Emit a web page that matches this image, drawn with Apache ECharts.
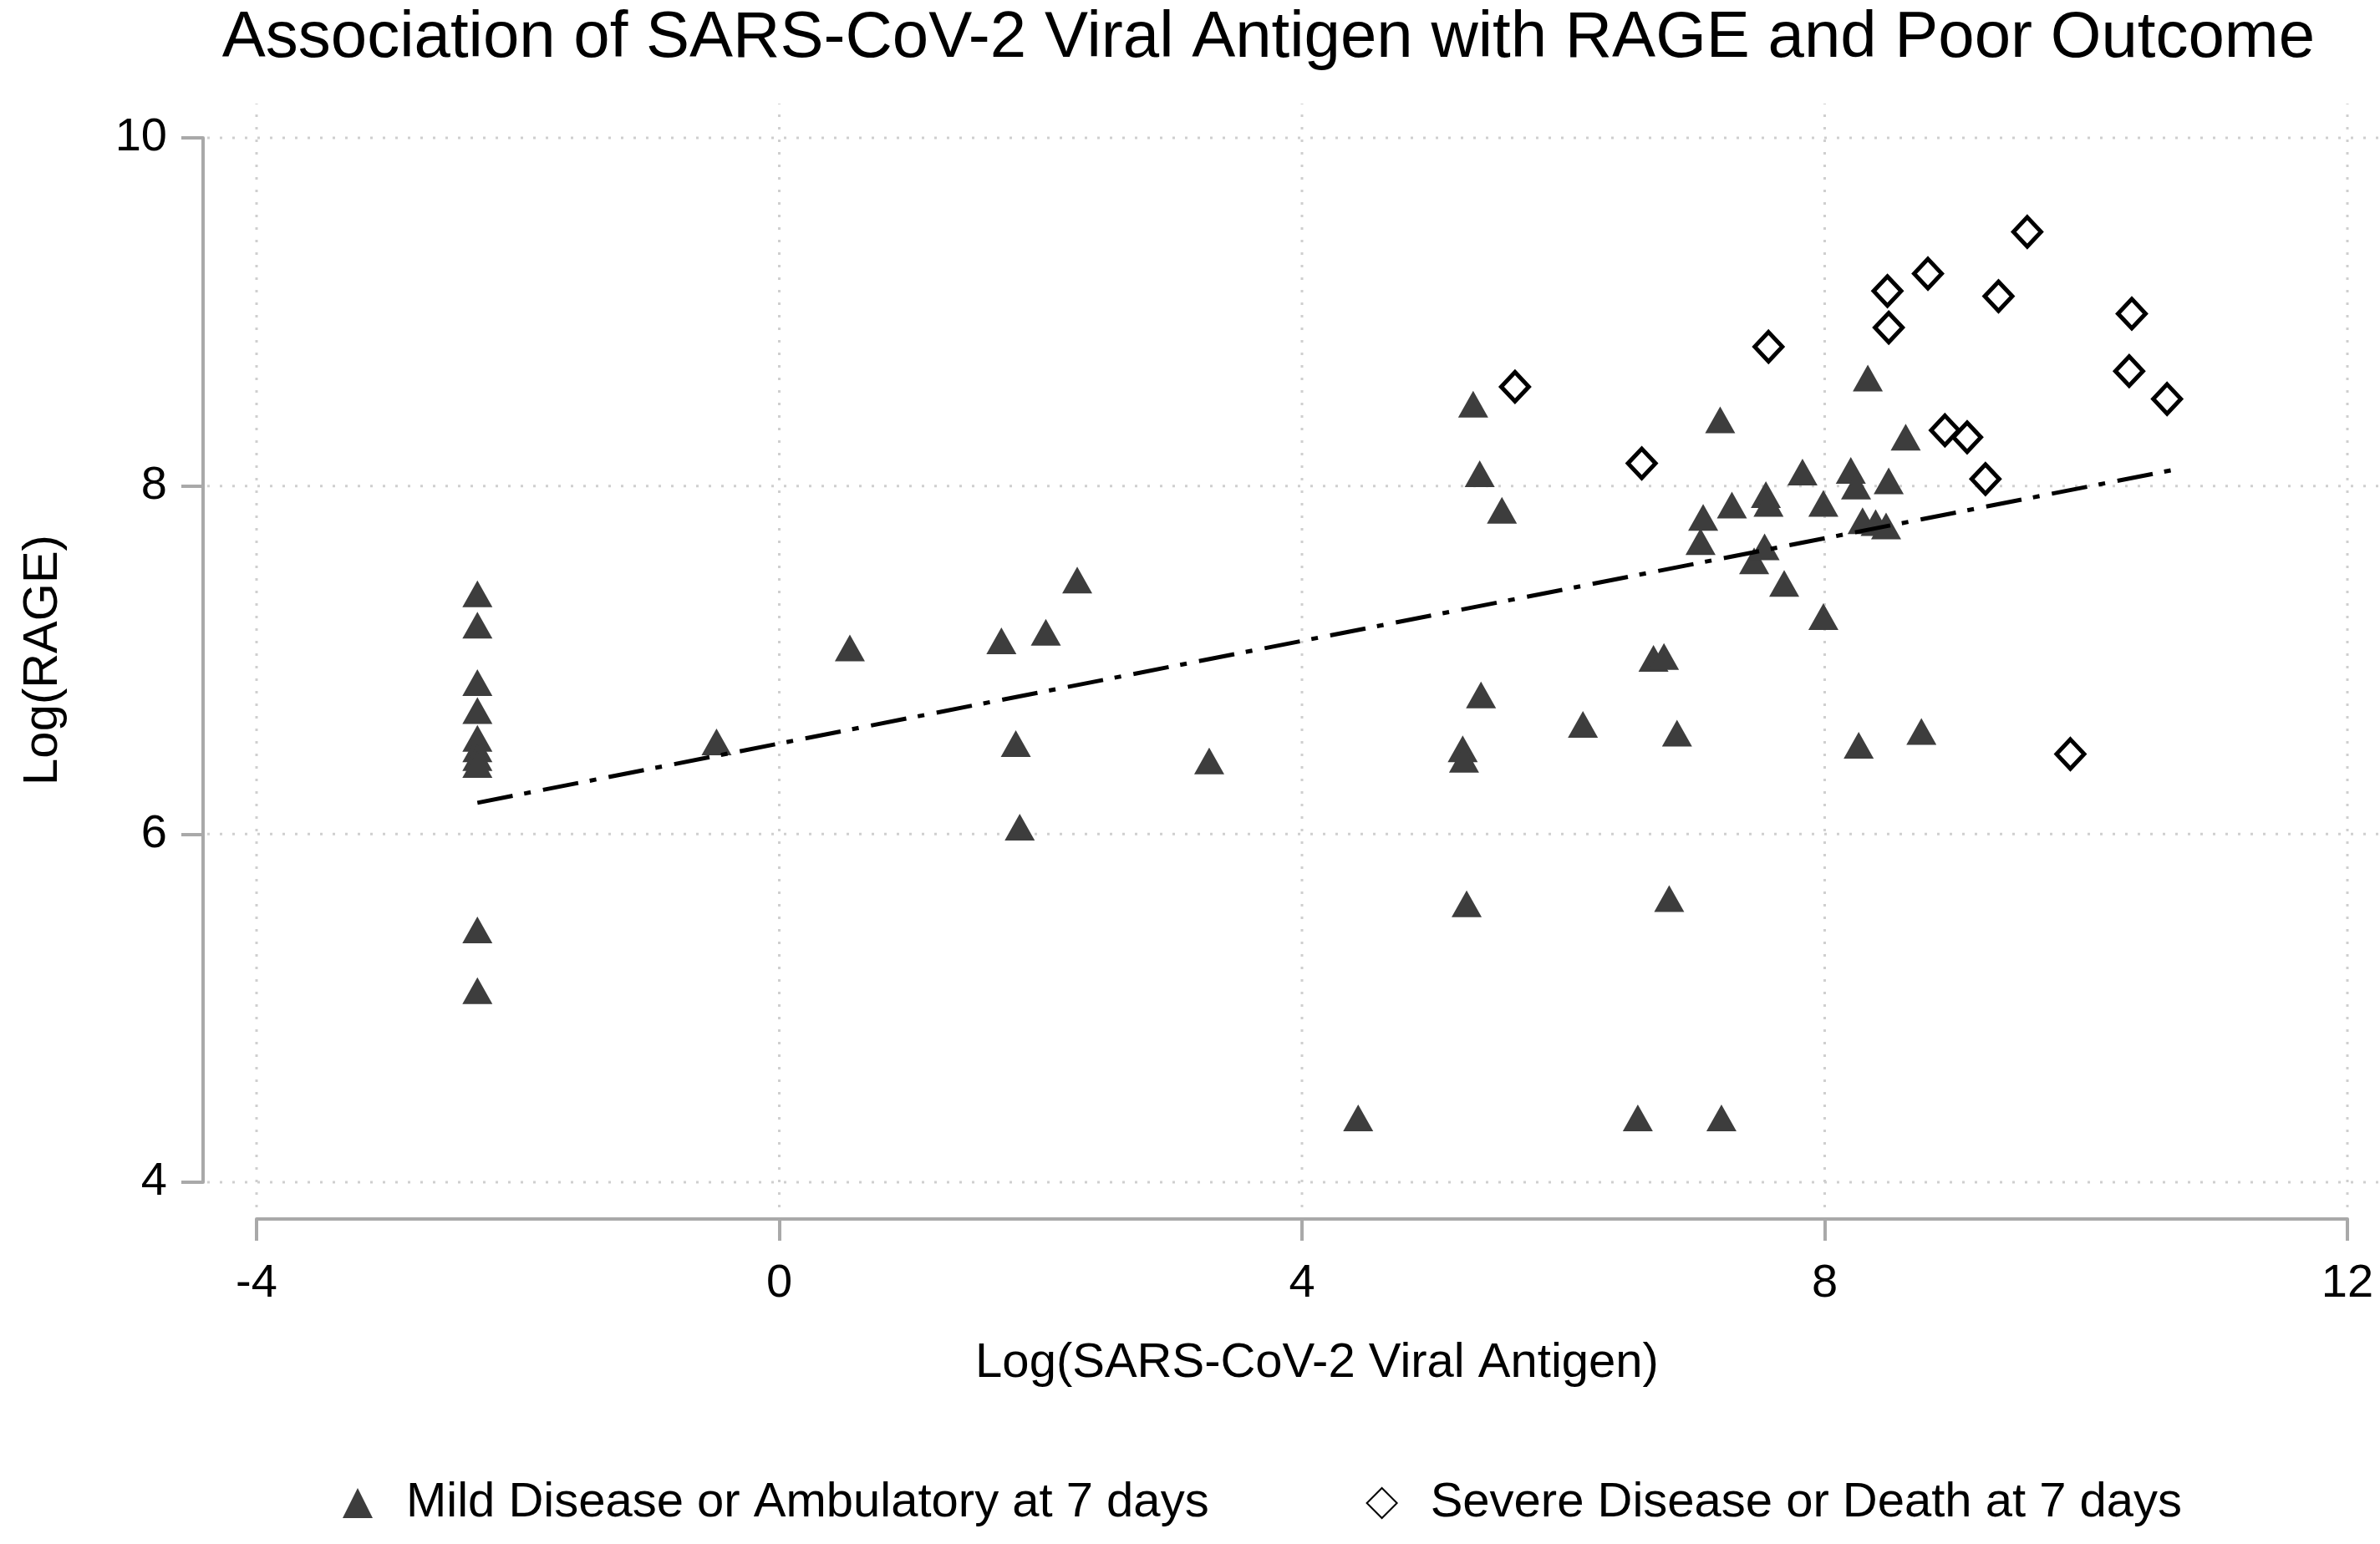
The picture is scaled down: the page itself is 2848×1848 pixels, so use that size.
<!DOCTYPE html>
<html>
<head>
<meta charset="utf-8">
<script src="https://cdn.jsdelivr.net/npm/echarts@6/dist/echarts.min.js"></script>
<style>
html,body{margin:0;padding:0;background:#ffffff;}
#chart{width:2848px;height:1848px;}
</style>
</head>
<body>
<div id="chart"></div>
<script>
// ---------------- data ----------------
const titleText = 'Association of SARS-CoV-2 Viral Antigen with RAGE and Poor Outcome';
const xName = 'Log(SARS-CoV-2 Viral Antigen)';
const yName = 'Log(RAGE)';
const mildName = 'Mild Disease or Ambulatory at 7 days';
const severeName = 'Severe Disease or Death at 7 days';

const xTicks = [-4, 0, 4, 8, 12];
const yTicks = [4, 6, 8, 10];

// Mild disease or ambulatory at 7 days: [log antigen, log RAGE]
const mild = [
  [-2.31, 7.38], [-2.31, 7.20], [-2.31, 6.87], [-2.31, 6.71], [-2.31, 6.55],
  [-2.31, 6.49], [-2.31, 6.44], [-2.31, 6.40], [-2.31, 5.45], [-2.31, 5.10],
  [-0.48, 6.53], [0.54, 7.07], [1.70, 7.11], [2.04, 7.16], [2.28, 7.46],
  [1.81, 6.52], [1.84, 6.04], [3.29, 6.42], [4.43, 4.37],
  [5.23, 6.49], [5.24, 6.43], [5.26, 5.60], [5.31, 8.47], [5.36, 8.07],
  [5.37, 6.80], [5.53, 7.86], [6.15, 6.63], [6.57, 4.37], [6.69, 7.01],
  [6.77, 7.02], [6.81, 5.63], [6.87, 6.58], [7.05, 7.68], [7.07, 7.82],
  [7.20, 8.38], [7.21, 4.37], [7.29, 7.89], [7.46, 7.57], [7.54, 7.65],
  [7.55, 7.95], [7.57, 7.90], [7.69, 7.44], [7.83, 8.08], [7.99, 7.90],
  [7.99, 7.25], [8.20, 8.09], [8.24, 8.00], [8.26, 6.51], [8.29, 7.80],
  [8.33, 8.62], [8.39, 7.79], [8.47, 7.77], [8.49, 8.03], [8.62, 8.28],
  [8.74, 6.59]
];

// Severe disease or death at 7 days
const severe = [
  [5.63, 8.57], [6.60, 8.13], [7.57, 8.80], [8.48, 9.12], [8.49, 8.91],
  [8.79, 9.22], [8.92, 8.32], [9.09, 8.28], [9.23, 8.04], [9.33, 9.09],
  [9.55, 9.46], [9.88, 6.46], [10.33, 8.66], [10.35, 8.99], [10.62, 8.50]
];

// fitted line end points as drawn in the picture
const fitLine = [[-2.31, 6.18], [10.65, 8.09]];

// ---------------- layout ----------------
const FONT = '"Liberation Sans", Arial, Helvetica, sans-serif';
const plot = { left: 307, right: 2809, top: 165, bottom: 1415 };   // pixels of first/last ticks
const outer = { left: 248, right: 2848, top: 124, bottom: 1445 };  // extent of dotted grid lines
const xMin = xTicks[0], xMax = xTicks[xTicks.length - 1];
const yMin = yTicks[0], yMax = yTicks[yTicks.length - 1];
const sx = (plot.right - plot.left) / (xMax - xMin);
const sy = (plot.bottom - plot.top) / (yMax - yMin);
const oxMin = xMin - (plot.left - outer.left) / sx;
const oxMax = xMax + (outer.right - plot.right) / sx;
const oyMin = yMin - (outer.bottom - plot.bottom) / sy;
const oyMax = yMax + (plot.top - outer.top) / sy;

const axisGray = '#a9a9a9';
const gridStyle = { color: '#cfcfcf', width: 3, type: [3, 12] };

const gridSeries = [];
xTicks.forEach(v => gridSeries.push({
  type: 'line', xAxisIndex: 0, yAxisIndex: 0, silent: true, z: 1,
  symbol: 'none', lineStyle: gridStyle, data: [[v, oyMin], [v, oyMax]]
}));
yTicks.forEach(v => gridSeries.push({
  type: 'line', xAxisIndex: 0, yAxisIndex: 0, silent: true, z: 1,
  symbol: 'none', lineStyle: gridStyle, data: [[oxMin, v], [oxMax, v]]
}));

const chart = echarts.init(document.getElementById('chart'), null, { renderer: 'canvas' });
chart.setOption({
  backgroundColor: '#ffffff',
  animation: false,
  textStyle: { fontFamily: FONT },
  graphic: [{
    type: 'text', x: 1518, y: 46, silent: true,
    style: {
      text: titleText, fill: '#000000', fontSize: 78, fontFamily: FONT,
      font: '78px ' + FONT,
      align: 'center', verticalAlign: 'middle',
      textAlign: 'center', textVerticalAlign: 'middle'
    }
  }],
  legend: {
    data: [mildName, severeName],
    left: 405, top: 1765,
    itemWidth: 36, itemHeight: 36, itemGap: 188,
    selectedMode: false,
    textStyle: { fontSize: 58, color: '#000000', fontFamily: FONT, padding: [0, 0, 0, 35] }
  },
  grid: [
    { left: outer.left, top: outer.top, width: outer.right - outer.left, height: outer.bottom - outer.top, containLabel: false },
    { left: plot.left, top: plot.top, width: plot.right - plot.left, height: plot.bottom - plot.top, containLabel: false }
  ],
  xAxis: [
    { gridIndex: 0, type: 'value', min: oxMin, max: oxMax, show: false },
    {
      gridIndex: 1, type: 'value', min: xMin, max: xMax, interval: 4, offset: 44,
      axisLine: { show: true, onZero: false, lineStyle: { color: axisGray, width: 4 } },
      axisTick: { show: true, length: 26, lineStyle: { color: axisGray, width: 4 } },
      axisLabel: { fontSize: 56, color: '#000000', margin: 50, fontFamily: FONT },
      splitLine: { show: false },
      name: xName, nameLocation: 'middle', nameGap: 144,
      nameTextStyle: { fontSize: 58, color: '#000000', fontFamily: FONT, padding: [0, 0, 0, 36] }
    }
  ],
  yAxis: [
    { gridIndex: 0, type: 'value', min: oyMin, max: oyMax, show: false },
    {
      gridIndex: 1, type: 'value', min: yMin, max: yMax, interval: 2, offset: 64,
      axisLine: { show: true, onZero: false, lineStyle: { color: axisGray, width: 4 } },
      axisTick: { show: true, length: 26, lineStyle: { color: axisGray, width: 4 } },
      axisLabel: { fontSize: 56, color: '#000000', margin: 43, fontFamily: FONT },
      splitLine: { show: false },
      name: yName, nameLocation: 'middle', nameGap: 162,
      nameTextStyle: { fontSize: 58, color: '#000000', fontFamily: FONT }
    }
  ],
  series: gridSeries.concat([
    {
      name: mildName, type: 'scatter', xAxisIndex: 0, yAxisIndex: 0, z: 3,
      symbol: 'triangle', symbolSize: [36, 32],
      itemStyle: { color: '#3d3d3d', opacity: 1 },
      data: mild
    },
    {
      name: severeName, type: 'scatter', xAxisIndex: 0, yAxisIndex: 0, z: 3,
      symbol: 'diamond', symbolSize: [33, 35],
      itemStyle: { color: '#ffffff', borderColor: '#000000', borderWidth: 5, opacity: 1 },
      data: severe
    },
    {
      name: 'fit', type: 'line', xAxisIndex: 0, yAxisIndex: 0, z: 4, silent: true,
      symbol: 'none',
      lineStyle: { color: '#000000', width: 5, type: [43, 14, 8, 15] },
      data: fitLine
    }
  ])
});
</script>
</body>
</html>
